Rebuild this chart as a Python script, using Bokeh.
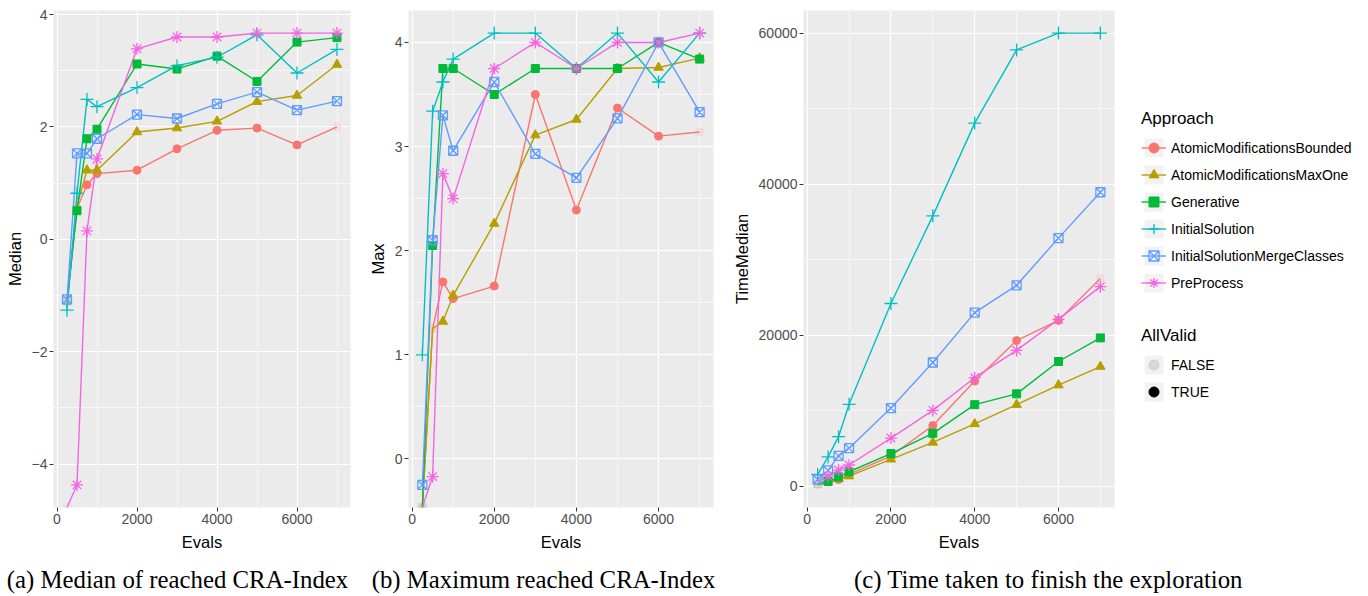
import math
import numpy as np
from bokeh.plotting import figure
from bokeh.models import (ColumnDataSource, Range1d, FixedTicker, CustomJSTickFormatter,
                          Label, Legend, LegendItem)
from bokeh.layouts import row, column
from bokeh.embed import file_html
from bokeh.resources import INLINE

NEG_INF = float("-inf")

# ---------------- data ----------------
evals = [250, 500, 750, 1000, 2000, 3000, 4000, 5000, 6000, 7000]

approaches = ["AtomicModificationsBounded", "AtomicModificationsMaxOne", "Generative",
              "InitialSolution", "InitialSolutionMergeClasses", "PreProcess"]
colors = ["#F8766D", "#B79F00", "#00BA38", "#00BFC4", "#619CFF", "#F564E3"]
markers = ["circle", "triangle", "square", "cross", "square_x", "asterisk"]

# Median of reached CRA-Index
median_bounded = [-1.10, 0.55, 0.97, 1.17, 1.23, 1.61, 1.94, 1.98, 1.68, 2.00]
median_maxone = [-1.12, 0.60, 1.23, 1.23, 1.91, 1.98, 2.10, 2.45, 2.56, 3.11]
median_generative = [-1.10, 0.51, 1.79, 1.96, 3.12, 3.03, 3.26, 2.81, 3.51, 3.59]
median_initial = [-1.26, 0.82, 2.49, 2.36, 2.70, 3.09, 3.24, 3.64, 2.96, 3.38]
median_merge = [-1.07, 1.53, 1.53, 1.79, 2.22, 2.15, 2.41, 2.62, 2.30, 2.46]
median_preprocess = [NEG_INF, -4.37, 0.15, 1.43, 3.39, 3.60, 3.60, 3.67, 3.67, 3.67]

# Maximum reached CRA-Index
max_bounded = [NEG_INF, 1.25, 1.70, 1.54, 1.66, 3.50, 2.39, 3.37, 3.10, 3.14]
max_maxone = [NEG_INF, 1.25, 1.32, 1.57, 2.26, 3.11, 3.26, 3.75, 3.76, 3.85]
max_generative = [NEG_INF, 2.05, 3.75, 3.75, 3.50, 3.75, 3.75, 3.75, 4.00, 3.84]
max_initial = [1.00, 3.34, 3.62, 3.84, 4.09, 4.09, 3.75, 4.09, 3.62, 4.09]
max_merge = [-0.25, 2.10, 3.30, 2.96, 3.62, 2.93, 2.70, 3.27, 4.00, 3.33]
max_preprocess = [NEG_INF, -0.17, 2.74, 2.50, 3.75, 4.00, 3.75, 4.00, 4.00, 4.09]

# Time taken (TimeMedian)
time_bounded = [223, 446, 893, 1563, 4000, 8036, 13929, 19286, 21964, 27497]
time_maxone = [179, 536, 982, 1339, 3571, 5804, 8259, 10804, 13393, 15848]
time_generative = [300, 625, 1250, 1920, 4330, 7009, 10804, 12232, 16518, 19643]
time_initial = [1563, 3884, 6563, 10848, 24196, 35804, 48080, 57768, 60000, 60000]
time_merge = [893, 2098, 4018, 5045, 10357, 16384, 22991, 26607, 32857, 38929]
time_preprocess = [670, 1339, 2143, 2813, 6384, 10045, 14375, 17991, 22098, 26429]

# AllValid flag per approach and evals
valid_bounded = [False, False, True, True, True, True, True, True, True, False]
valid_maxone = [False, False, True, True, True, True, True, True, True, True]
valid_generative = [False, True, True, True, True, True, True, True, True, True]
valid_initial = [True] * 10
valid_merge = [True] * 10
valid_preprocess = [False, True, True, True, True, True, True, True, True, True]

valid_all = [valid_bounded, valid_maxone, valid_generative, valid_initial, valid_merge, valid_preprocess]

captions = ["(a) Median of reached CRA-Index", "(b) Maximum reached CRA-Index",
            "(c) Time taken to finish the exploration"]

FONT = "Liberation Sans"
marker_size = {"circle": 8, "triangle": 9.5, "square": 8, "cross": 13, "square_x": 9, "asterisk": 12}
MAIN_H = 556


def expanded(vals):
    lo, hi = min(vals), max(vals)
    pad = 0.05 * (hi - lo)
    return lo - pad, hi + pad


def make_panel(series, ylabel, ymajor, yminor, width, bl, br, ylab_standoff):
    finite = [v for s in series for v in s if math.isfinite(v)]
    y0, y1 = expanded(finite)
    x0, x1 = expanded(evals)
    p = figure(width=width, height=MAIN_H, x_range=Range1d(x0, x1), y_range=Range1d(y0, y1),
               output_backend="svg", toolbar_location=None,
               min_border_left=bl, min_border_right=br, min_border_top=10, min_border_bottom=49,
               background_fill_color="#EBEBEB", border_fill_color="white",
               outline_line_color=None)
    p.xaxis.ticker = FixedTicker(ticks=[0, 2000, 4000, 6000], minor_ticks=[1000, 3000, 5000, 7000])
    p.yaxis.ticker = FixedTicker(ticks=ymajor, minor_ticks=yminor)
    p.yaxis.formatter = CustomJSTickFormatter(
        code="return (tick < 0 ? '\u2212' : '') + Math.abs(tick).toString();")
    for ax in (p.xaxis[0], p.yaxis[0]):
        ax.axis_line_color = None
        ax.major_tick_line_color = "#333333"
        ax.major_tick_line_width = 1
        ax.major_tick_out = 4
        ax.major_tick_in = 0
        ax.minor_tick_line_color = None
        ax.major_label_text_color = "#4D4D4D"
        ax.major_label_text_font = FONT
        ax.major_label_text_font_size = "14px"
        ax.major_label_standoff = 2
        ax.axis_label_text_font = FONT
        ax.axis_label_text_font_size = "16.5px"
        ax.axis_label_text_font_style = "normal"
        ax.axis_label_text_color = "black"
    p.xaxis.axis_label = "Evals"
    p.xaxis.axis_label_standoff = 6
    p.yaxis.axis_label = ylabel
    p.yaxis.axis_label_standoff = ylab_standoff
    for g in (p.xgrid[0], p.ygrid[0]):
        g.grid_line_color = "white"
        g.grid_line_width = 1.2
        g.minor_grid_line_color = "white"
        g.minor_grid_line_width = 0.6

    sources = []
    for vals, ok in zip(series, valid_all):
        # like ggplot, non-finite (-Inf) values are drawn at the panel edge
        y = [v if math.isfinite(v) else y0 for v in vals]
        a = [1.0 if f else 0.1 for f in ok]
        sources.append(ColumnDataSource(dict(x=evals, y=y, a=a)))
    for src, col in zip(sources, colors):
        p.line("x", "y", source=src, line_color=col, line_width=1.4)
    for src, col, mk in zip(sources, colors, markers):
        hollow = mk in ("square_x", "cross", "asterisk")
        p.scatter("x", "y", source=src, marker=mk, size=marker_size[mk],
                  fill_color=None if hollow else col, line_color=col,
                  line_width=1.3 if hollow else 1,
                  fill_alpha="a", line_alpha="a")
    return p


def blank(width, height):
    f = figure(width=width, height=height, x_range=Range1d(0, 1), y_range=Range1d(0, 1),
               output_backend="svg", toolbar_location=None,
               x_axis_location=None, y_axis_location=None,
               min_border_left=0, min_border_right=0, min_border_top=0, min_border_bottom=0,
               background_fill_color="white", border_fill_color="white", outline_line_color=None)
    f.grid.visible = False
    return f


def caption_fig(width, text, cx):
    f = blank(width, 40)
    f.add_layout(Label(x=cx, y=17, x_units="screen", y_units="screen", text=text,
                       text_align="center", text_baseline="middle",
                       text_font="Liberation Serif", text_font_size="24.8px",
                       text_color="black"))
    return f


p1 = make_panel([median_bounded, median_maxone, median_generative, median_initial,
                 median_merge, median_preprocess],
                "Median", [-4, -2, 0, 2, 4], [-3, -1, 1, 3], 360, 53, 10, 5)
p2 = make_panel([max_bounded, max_maxone, max_generative, max_initial, max_merge, max_preprocess],
                "Max", [0, 1, 2, 3, 4], [0.5, 1.5, 2.5, 3.5], 360, 48, 7, 5)
p3 = make_panel([time_bounded, time_maxone, time_generative, time_initial, time_merge,
                 time_preprocess],
                "TimeMedian", [0, 20000, 40000, 60000], [10000, 30000, 50000], 400, 83, 6, 5)

# ---------------- legends (own strip right of panel c) ----------------
legfig = blank(248, MAIN_H)
nan_src = ColumnDataSource(dict(x=[np.nan], y=[np.nan]))
key_bg = legfig.quad(left="x", right="x", bottom="y", top="y", source=nan_src,
                     fill_color="#F2F2F2", line_color="white", line_width=1)
items = []
for name, col, mk in zip(approaches, colors, markers):
    hollow = mk in ("square_x", "cross", "asterisk")
    lr = legfig.line("x", "y", source=nan_src, line_color=col, line_width=1.4)
    sr = legfig.scatter("x", "y", source=nan_src, marker=mk, fill_color=None if hollow else col,
                        line_color=col, line_width=1.3 if hollow else 1)
    items.append(LegendItem(label=name, renderers=[key_bg, lr, sr]))

valid_items = []
for lab, alpha in (("FALSE", 0.1), ("TRUE", 1.0)):
    sr = legfig.scatter("x", "y", source=nan_src, marker="circle", fill_color="black",
                        line_color="black", fill_alpha=alpha, line_alpha=alpha)
    valid_items.append(LegendItem(label=lab, renderers=[key_bg, sr]))


def style_legend(leg):
    leg.title_text_font = FONT
    leg.title_text_font_size = "17px"
    leg.title_text_font_style = "normal"
    leg.title_text_color = "black"
    leg.title_standoff = 6
    leg.label_text_font = FONT
    leg.label_text_font_size = "14px"
    leg.label_text_color = "black"
    leg.glyph_width = 25
    leg.glyph_height = 25
    leg.label_height = 25
    leg.spacing = 2
    leg.padding = 0
    leg.margin = 0
    leg.label_standoff = 5
    leg.border_line_color = None
    leg.background_fill_alpha = 0


leg1 = Legend(items=items, title="Approach", location=(21, 212))
leg2 = Legend(items=valid_items, title="AllValid", location=(21, 103))
style_legend(leg1)
style_legend(leg2)
legfig.add_layout(leg1, "center")
legfig.add_layout(leg2, "center")

c1 = caption_fig(360, captions[0], 177)
c2 = caption_fig(360, captions[1], 183)
c3 = caption_fig(648, captions[2], 328)

layout = column(row(p1, p2, p3, legfig), row(c1, c2, c3))
open("out.html", "w").write(file_html(layout, INLINE))
